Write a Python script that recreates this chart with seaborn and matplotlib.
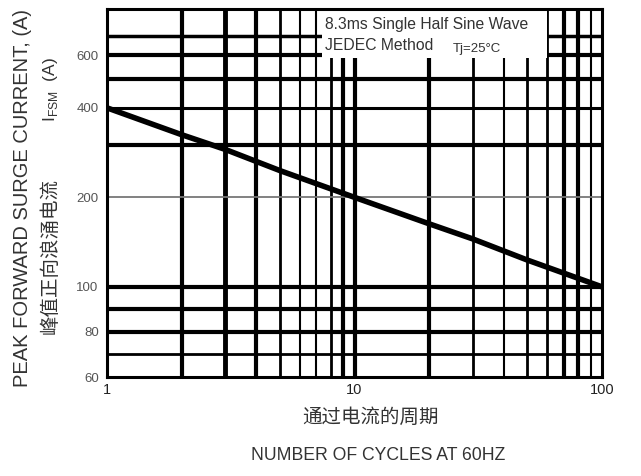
import numpy as np
import pandas as pd
import matplotlib
matplotlib.use('Agg')
import matplotlib.pyplot as plt
import seaborn as sns
from matplotlib.patches import Rectangle

# curve (log-log, straight line)
cycles = [1, 2, 3, 5, 10, 20, 30, 50, 100]
surge_current = [400, 325, 290, 246, 200, 163, 145, 123, 100]

x_ticks = [1, 10, 100]
y_ticks = [60, 80, 100, 200, 400, 600]

# grid lines of the scanned sheet
x_grid = [2, 3, 4, 5, 6, 7, 8, 9, 10, 20, 30, 40, 50, 60, 70, 80, 90]
x_grid_width = [3, 3.5, 3, 2, 1.5, 1.5, 2, 3, 3, 3, 2, 1.5, 2, 2, 3, 3, 1.5]
y_grid = [70, 80, 90, 100, 200, 300, 400, 500, 600, 700]
y_grid_width = [2, 3, 3, 3, 1.3, 3, 2.2, 3, 3, 2.5]

W, H = 641, 476

# below 100 A the sheet's axis is linear, above it is logarithmic
K = 0.00758


def fwd(y):
    y = np.asarray(y, dtype=float)
    ylog = np.log10(np.clip(y, 1e-6, None))
    return np.where(y >= 100, ylog, 2 - (100 - y) * K)


def inv(v):
    v = np.asarray(v, dtype=float)
    return np.where(v >= 2, 10 ** np.clip(v, -10, 10), 100 - (2 - v) / K)


sns.set_theme(style='white')
plt.rcParams['font.family'] = ['Liberation Sans', 'Noto Sans CJK SC', 'DejaVu Sans']

fig = plt.figure(figsize=(W / 100, H / 100), dpi=100)
ax = fig.add_axes([107 / W, 1 - 377 / H, 495 / W, 368 / H])

data = pd.DataFrame({'cycles': cycles, 'current': surge_current})
sns.lineplot(data=data, x='cycles', y='current', ax=ax, color='black',
             linewidth=4, zorder=3, solid_capstyle='butt')

ax.set_xscale('log')
ax.set_yscale('function', functions=(fwd, inv))
ax.set_xlim(1, 100)
ax.set_ylim(60, 860)

for v, lw in zip(x_grid, x_grid_width):
    ax.axvline(v, color='black' if lw > 1.4 else '#666666', linewidth=lw, zorder=1)
for v, lw in zip(y_grid, y_grid_width):
    ax.axhline(v, color='black' if lw > 1.4 else '#777777', linewidth=lw, zorder=1)

# white box behind the test-condition note
ax.add_patch(Rectangle((0.434, 0.867), 0.455, 0.14, transform=ax.transAxes,
                       facecolor='white', edgecolor='none', zorder=2))

ax.set_xticks(x_ticks)
ax.set_xticklabels([str(t) for t in x_ticks])
ax.set_yticks(y_ticks)
ax.set_yticklabels([str(t) for t in y_ticks])
ax.minorticks_off()
ax.tick_params(axis='y', length=0, pad=6, labelsize=9.5, labelcolor='#555555')
ax.tick_params(axis='x', length=0, pad=4, labelsize=10.5, labelcolor='#222222')
ax.set_xlabel('')
ax.set_ylabel('')

for s in ax.spines.values():
    s.set_color('black')
    s.set_linewidth(2.2)
    s.set_zorder(4)

fig.text(325 / W, 1 - 25 / H, '8.3ms Single Half Sine Wave', fontsize=11.3,
         color='#333333', va='center', ha='left')
fig.text(325 / W, 1 - 46 / H, 'JEDEC Method', fontsize=11.3,
         color='#333333', va='center', ha='left')
fig.text(453 / W, 1 - 49 / H, 'Tj=25°C', fontsize=9.5,
         color='#333333', va='center', ha='left')

fig.text(23 / W, 1 - 198 / H, 'PEAK FORWARD SURGE CURRENT, (A)', rotation=90,
         fontsize=14.5, color='#333333', va='center', ha='center')
# Chinese part and the I_FSM symbol are separate texts so the CJK font is used
fig.text(50 / W, 1 - 334 / H, '峰值正向浪涌电流', rotation=90,
         fontsize=14, color='#333333', va='bottom', ha='center')
fig.text(50 / W, 1 - 57 / H, 'I$_{\\mathregular{FSM}}$  (A)', rotation=90,
         fontsize=12.5, color='#333333', va='top', ha='center')

fig.text(370 / W, 1 - 418 / H, '通过电流的周期', fontsize=14,
         color='#333333', va='center', ha='center')
fig.text(378 / W, 1 - 455 / H, 'NUMBER OF CYCLES AT 60HZ', fontsize=12.7,
         color='#333333', va='center', ha='center')

fig.savefig('out.png', dpi=100, facecolor='white')
